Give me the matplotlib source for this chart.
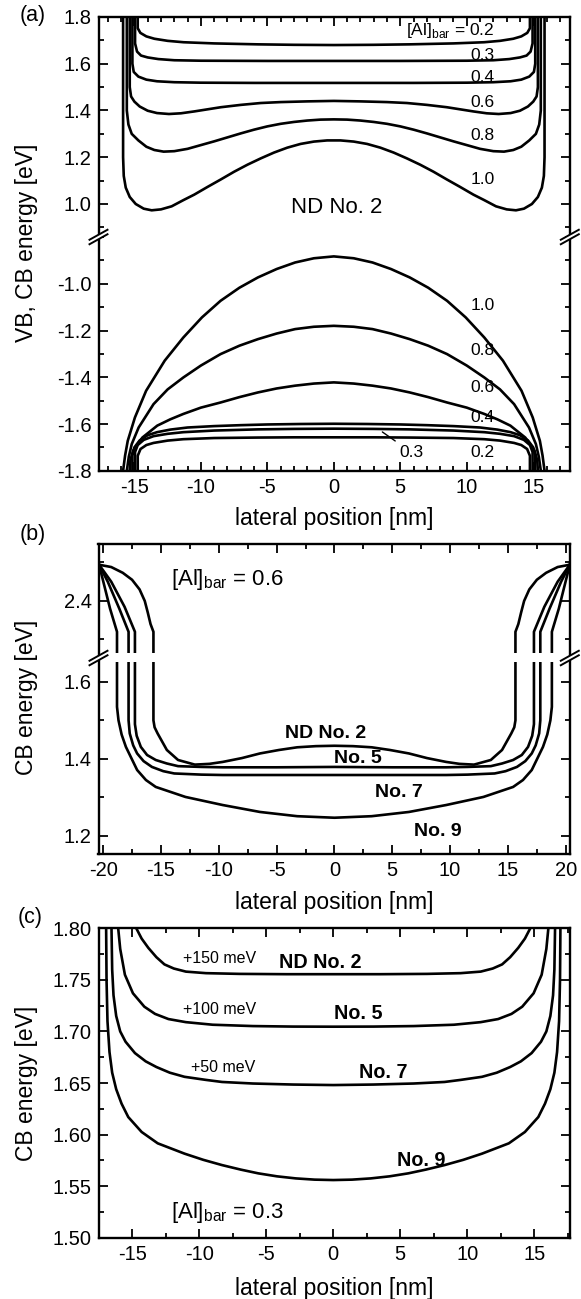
import matplotlib
matplotlib.use('Agg')
import matplotlib.pyplot as plt
from matplotlib.ticker import MultipleLocator, FixedLocator, FormatStrFormatter
from matplotlib.lines import Line2D
from matplotlib.patches import Polygon, Rectangle

plt.rcParams['font.family'] = ['Liberation Sans', 'DejaVu Sans']
plt.rcParams['mathtext.fontset'] = 'custom'
plt.rcParams['mathtext.rm'] = 'Liberation Sans'
plt.rcParams['axes.unicode_minus'] = False

# ---------------- panel (a): ND No. 2, CB (upper) and VB (lower) for several [Al]_bar
a_levels = ['0.2', '0.3', '0.4', '0.6', '0.8', '1.0']

a_cb_x_10 = [-15.85, -15.85, -15.8, -15.65, -15.35, -14.9, -14.3, -13.7, -13.0, -12.2, -11.3, -10.5, -9.5, -8.5, -7.5, -6.5, -5.5, -4.5, -3.5, -2.5, -1.5, -0.5,
             0.5, 1.5, 2.5, 3.5, 4.5, 5.5, 6.5, 7.5, 8.5, 9.5, 10.5, 11.3, 12.2, 13.0, 13.7, 14.3, 14.9, 15.35, 15.65, 15.8, 15.85, 15.85]
a_cb_y_10 = [1.80, 1.20, 1.12, 1.07, 1.03, 1.00, 0.980, 0.973, 0.977, 0.990, 1.017, 1.040, 1.073, 1.105, 1.138, 1.168, 1.195, 1.220, 1.241, 1.257, 1.267, 1.272,
             1.272, 1.267, 1.257, 1.241, 1.220, 1.195, 1.168, 1.138, 1.105, 1.073, 1.040, 1.017, 0.990, 0.977, 0.973, 0.980, 1.00, 1.03, 1.07, 1.12, 1.20, 1.80]
a_cb_x_08 = [-15.57, -15.57, -15.45, -15.2, -14.7, -14.1, -13.5, -12.8, -12.0, -11.0, -10.0, -9.0, -8.0, -7.0, -6.0, -5.0, -4.0, -3.0, -2.0, -1.0, 0.0,
             1.0, 2.0, 3.0, 4.0, 5.0, 6.0, 7.0, 8.0, 9.0, 10.0, 11.0, 12.0, 12.8, 13.5, 14.1, 14.7, 15.2, 15.45, 15.57, 15.57]
a_cb_y_08 = [1.80, 1.40, 1.34, 1.30, 1.272, 1.245, 1.231, 1.224, 1.226, 1.236, 1.252, 1.268, 1.285, 1.302, 1.318, 1.332, 1.343, 1.351, 1.357, 1.361, 1.362,
             1.361, 1.357, 1.351, 1.343, 1.332, 1.318, 1.302, 1.285, 1.268, 1.252, 1.236, 1.226, 1.224, 1.231, 1.245, 1.272, 1.30, 1.34, 1.40, 1.80]
a_cb_x_06 = [-15.35, -15.35, -15.25, -15.0, -14.6, -14.0, -13.3, -12.4, -11.5, -10.5, -9.5, -8.5, -7.0, -5.5, -4.0, -2.0, 0.0,
             2.0, 4.0, 5.5, 7.0, 8.5, 9.5, 10.5, 11.5, 12.4, 13.3, 14.0, 14.6, 15.0, 15.25, 15.35, 15.35]
a_cb_y_06 = [1.80, 1.50, 1.46, 1.438, 1.417, 1.399, 1.389, 1.385, 1.388, 1.396, 1.405, 1.414, 1.424, 1.432, 1.436, 1.439, 1.441,
             1.439, 1.436, 1.432, 1.424, 1.414, 1.405, 1.396, 1.388, 1.385, 1.389, 1.399, 1.417, 1.438, 1.46, 1.50, 1.80]
a_cb_x_04 = [-15.15, -15.15, -15.05, -14.7, -14.1, -13.3, -12.0, -10.0, -6.0, -3.0, 0.0, 3.0, 6.0, 10.0, 12.0, 13.3, 14.1, 14.7, 15.05, 15.15, 15.15]
a_cb_y_04 = [1.80, 1.60, 1.565, 1.545, 1.532, 1.525, 1.521, 1.519, 1.518, 1.518, 1.518, 1.518, 1.518, 1.519, 1.521, 1.525, 1.532, 1.545, 1.565, 1.60, 1.80]
a_cb_x_03 = [-14.95, -14.95, -14.8, -14.5, -14.0, -13.2, -12.0, -10.0, -5.0, 0.0, 5.0, 10.0, 12.0, 13.2, 14.0, 14.5, 14.8, 14.95, 14.95]
a_cb_y_03 = [1.80, 1.687, 1.652, 1.635, 1.627, 1.620, 1.615, 1.613, 1.612, 1.612, 1.612, 1.613, 1.615, 1.620, 1.627, 1.635, 1.652, 1.687, 1.80]
a_cb_x_02 = [-14.75, -14.75, -14.55, -14.1, -13.5, -12.5, -11.3, -9.0, -5.7, -3.0, 0.0, 3.0, 5.7, 9.0, 11.3, 12.5, 13.5, 14.1, 14.55, 14.75, 14.75]
a_cb_y_02 = [1.80, 1.752, 1.732, 1.717, 1.707, 1.698, 1.692, 1.687, 1.683, 1.681, 1.680, 1.681, 1.683, 1.687, 1.692, 1.698, 1.707, 1.717, 1.732, 1.752, 1.80]

a_vb_x_10 = [-15.85, -15.7, -15.5, -14.96, -14.12, -12.72, -11.32, -9.92, -8.52, -7.1, -5.71, -4.3, -2.91, -1.5, 0.0,
             1.5, 2.91, 4.3, 5.71, 7.1, 8.52, 9.92, 11.32, 12.72, 14.12, 14.96, 15.5, 15.7, 15.85]
a_vb_y_10 = [-1.80, -1.735, -1.672, -1.572, -1.458, -1.329, -1.230, -1.144, -1.073, -1.017, -0.973, -0.937, -0.909, -0.891, -0.883,
             -0.891, -0.909, -0.937, -0.973, -1.017, -1.073, -1.144, -1.230, -1.329, -1.458, -1.572, -1.672, -1.735, -1.80]
a_vb_x_08 = [-15.57, -15.42, -15.2, -14.68, -13.56, -12.5, -11.32, -10.0, -8.52, -7.1, -5.71, -4.3, -2.91, -1.5, 0.0,
             1.5, 2.91, 4.3, 5.71, 7.1, 8.52, 10.0, 11.32, 12.5, 13.56, 14.68, 15.2, 15.42, 15.57]
a_vb_y_08 = [-1.80, -1.74, -1.686, -1.615, -1.515, -1.452, -1.401, -1.350, -1.301, -1.265, -1.237, -1.213, -1.194, -1.184, -1.180,
             -1.184, -1.194, -1.213, -1.237, -1.265, -1.301, -1.350, -1.401, -1.452, -1.515, -1.615, -1.686, -1.74, -1.80]
a_vb_x_06 = [-15.35, -15.3, -15.1, -14.4, -13.28, -12.3, -11.32, -10.0, -8.52, -7.1, -5.71, -4.3, -2.91, -1.5, 0.0,
             1.5, 2.91, 4.3, 5.71, 7.1, 8.52, 10.0, 11.32, 12.3, 13.28, 14.4, 15.1, 15.3, 15.35]
a_vb_y_06 = [-1.80, -1.755, -1.714, -1.658, -1.607, -1.580, -1.557, -1.530, -1.508, -1.485, -1.465, -1.448, -1.436, -1.427, -1.422,
             -1.427, -1.436, -1.448, -1.465, -1.485, -1.508, -1.530, -1.557, -1.580, -1.607, -1.658, -1.714, -1.755, -1.80]
a_vb_x_04 = [-15.15, -15.15, -15.0, -14.6, -14.0, -13.3, -12.3, -11.0, -9.0, -7.0, -5.0, -2.5, 0.0,
             2.5, 5.0, 7.0, 9.0, 11.0, 12.3, 13.3, 14.0, 14.6, 15.0, 15.15, 15.15]
a_vb_y_04 = [-1.80, -1.735, -1.700, -1.670, -1.648, -1.635, -1.624, -1.615, -1.609, -1.605, -1.602, -1.600, -1.599,
             -1.600, -1.602, -1.605, -1.609, -1.615, -1.624, -1.635, -1.648, -1.670, -1.700, -1.735, -1.80]
a_vb_x_03 = [-14.95, -14.95, -14.75, -14.3, -13.56, -12.5, -11.32, -9.0, -5.71, -3.0, 0.0, 3.0, 5.71, 9.0, 11.32, 12.5, 13.56, 14.3, 14.75, 14.95, 14.95]
a_vb_y_03 = [-1.80, -1.72, -1.69, -1.668, -1.652, -1.642, -1.635, -1.628, -1.623, -1.621, -1.620, -1.621, -1.623, -1.628, -1.635, -1.642, -1.652, -1.668, -1.69, -1.72, -1.80]
a_vb_x_02 = [-14.75, -14.75, -14.54, -14.1, -13.56, -12.5, -11.32, -9.0, -5.71, -3.0, 0.0, 3.0, 5.71, 9.0, 11.32, 12.5, 13.56, 14.1, 14.54, 14.75, 14.75]
a_vb_y_02 = [-1.80, -1.736, -1.707, -1.690, -1.681, -1.671, -1.665, -1.660, -1.658, -1.657, -1.657, -1.657, -1.658, -1.660, -1.665, -1.671, -1.681, -1.690, -1.707, -1.736, -1.80]

# ---------------- panel (b): [Al]_bar = 0.6, four dots
b_names = ['ND No. 2', 'No. 5', 'No. 7', 'No. 9']
b_x_2 = [-20.35, -19.3, -18.3, -17.5, -16.85, -16.4, -16.14, -15.9, -15.65, -15.65, -15.55, -15.29, -14.49, -13.52, -12.07, -10.8, -9.66, -8.0, -6.44, -4.8, -3.22, -1.6, 0.0,
         1.6, 3.22, 4.8, 6.44, 8.0, 9.66, 10.8, 12.07, 13.52, 14.49, 15.29, 15.55, 15.65, 15.65, 15.9, 16.14, 16.4, 16.85, 17.5, 18.3, 19.3, 20.35]
b_y_2 = [2.494, 2.488, 2.473, 2.455, 2.430, 2.400, 2.370, 2.340, 2.320, 1.500, 1.482, 1.466, 1.423, 1.397, 1.385, 1.387, 1.392, 1.402, 1.414, 1.423, 1.430, 1.433, 1.434,
         1.433, 1.430, 1.423, 1.414, 1.402, 1.392, 1.387, 1.385, 1.397, 1.423, 1.466, 1.482, 1.500, 2.320, 2.340, 2.370, 2.400, 2.430, 2.455, 2.473, 2.488, 2.494]
b_x_5 = [-20.35, -19.3, -18.15, -17.25, -17.25, -17.1, -16.74, -16.2, -15.45, -14.5, -13.52, -11.5, -9.66, -5.0, 0.0,
         5.0, 9.66, 11.5, 13.52, 14.5, 15.45, 16.2, 16.74, 17.1, 17.25, 17.25, 18.15, 19.3, 20.35]
b_y_5 = [2.494, 2.45, 2.385, 2.320, 1.490, 1.460, 1.431, 1.410, 1.397, 1.388, 1.381, 1.379, 1.378, 1.378, 1.379,
         1.378, 1.378, 1.379, 1.381, 1.388, 1.397, 1.410, 1.431, 1.460, 1.490, 2.320, 2.385, 2.45, 2.494]
b_x_7 = [-20.35, -19.6, -18.6, -17.8, -17.8, -17.7, -17.4, -17.06, -16.5, -15.78, -14.8, -13.85, -11.5, -9.66, -5.0, 0.0,
         5.0, 9.66, 11.5, 13.85, 14.8, 15.78, 16.5, 17.06, 17.4, 17.7, 17.8, 17.8, 18.6, 19.6, 20.35]
b_y_7 = [2.494, 2.45, 2.38, 2.320, 1.500, 1.466, 1.435, 1.414, 1.394, 1.379, 1.368, 1.362, 1.359, 1.358, 1.358, 1.358,
         1.358, 1.358, 1.359, 1.362, 1.368, 1.379, 1.394, 1.414, 1.435, 1.466, 1.500, 2.320, 2.38, 2.45, 2.494]
b_x_9 = [-20.35, -19.9, -19.4, -18.8, -18.8, -18.67, -18.4, -18.03, -17.06, -16.3, -15.45, -12.88, -9.66, -6.44, -3.22, 0.0,
         3.22, 6.44, 9.66, 12.88, 15.45, 16.3, 17.06, 18.03, 18.4, 18.67, 18.8, 18.8, 19.4, 19.9, 20.35]
b_y_9 = [2.494, 2.44, 2.38, 2.320, 1.535, 1.500, 1.463, 1.431, 1.371, 1.345, 1.327, 1.301, 1.280, 1.262, 1.251, 1.247,
         1.251, 1.262, 1.280, 1.301, 1.327, 1.345, 1.371, 1.431, 1.463, 1.500, 1.535, 2.320, 2.38, 2.44, 2.494]

# ---------------- panel (c): [Al]_bar = 0.3, shifted curves
c_x_2 = [-14.7, -14.3, -13.8, -13.2, -12.6, -11.9, -11.0, -9.5, -7.0, -3.5, 0.0, 3.5, 7.0, 9.5, 11.0, 11.9, 12.6, 13.2, 13.8, 14.3, 14.7]
c_y_2 = [1.800, 1.790, 1.781, 1.772, 1.765, 1.761, 1.758, 1.7565, 1.7558, 1.7555, 1.7555, 1.7555, 1.7558, 1.7565, 1.758, 1.761, 1.765, 1.772, 1.781, 1.790, 1.800]
c_x_5 = [-16.05, -15.9, -15.55, -14.95, -14.1, -13.3, -12.3, -11.0, -9.0, -6.0, -3.0, 0.0, 3.0, 6.0, 9.0, 11.0, 12.3, 13.3, 14.1, 14.95, 15.55, 15.9, 16.05]
c_y_5 = [1.800, 1.780, 1.755, 1.737, 1.724, 1.717, 1.712, 1.709, 1.7065, 1.7052, 1.7047, 1.7046, 1.7047, 1.7052, 1.7065, 1.709, 1.712, 1.717, 1.724, 1.737, 1.755, 1.780, 1.800]
c_x_7 = [-16.55, -16.5, -16.4, -16.2, -15.9, -15.5, -14.8, -14.0, -13.2, -12.2, -11.1, -9.5, -8.3, -6.0, -3.0, 0.0,
         3.0, 6.0, 8.3, 9.5, 11.1, 12.2, 13.2, 14.0, 14.8, 15.5, 15.9, 16.2, 16.4, 16.5, 16.55]
c_y_7 = [1.800, 1.760, 1.735, 1.715, 1.700, 1.690, 1.679, 1.671, 1.6655, 1.660, 1.656, 1.653, 1.651, 1.6495, 1.6485, 1.648,
         1.6485, 1.6495, 1.651, 1.653, 1.656, 1.660, 1.6655, 1.671, 1.679, 1.690, 1.700, 1.715, 1.735, 1.760, 1.800]
c_x_9 = [-16.95, -16.92, -16.85, -16.7, -16.5, -16.2, -15.8, -15.3, -14.3, -13.1, -11.1, -9.7, -8.3, -6.9, -5.6, -4.2, -2.8, -1.4, 0.0,
         1.4, 2.8, 4.2, 5.6, 6.9, 8.3, 9.7, 11.1, 13.1, 14.3, 15.3, 15.8, 16.2, 16.5, 16.7, 16.85, 16.92, 16.95]
c_y_9 = [1.800, 1.750, 1.710, 1.680, 1.660, 1.644, 1.630, 1.617, 1.6025, 1.5915, 1.5815, 1.5755, 1.5704, 1.566, 1.5624, 1.5595, 1.5575, 1.5563, 1.5559,
         1.5563, 1.5575, 1.5595, 1.5624, 1.566, 1.5704, 1.5755, 1.5815, 1.5915, 1.6025, 1.617, 1.630, 1.644, 1.660, 1.680, 1.710, 1.750, 1.800]
c_shifts = ['+150 meV', '+100 meV', '+50 meV']

W, H = 581, 1299
LW = 1.9
TICK_FS = 14.5
LABEL_FS = 16.5

fig = plt.figure(figsize=(W / 100, H / 100), dpi=100)


def box(l, t, r, b):
    # pixel box (top-down) -> figure fraction
    return [l / W, 1 - b / H, (r - l) / W, (b - t) / H]


def style(ax, xlim, ylim, top=True, bottom=True):
    ax.set_xlim(*xlim)
    ax.set_ylim(*ylim)
    for s in ax.spines.values():
        s.set_linewidth(1.7)
    ax.spines['top'].set_visible(top)
    ax.spines['bottom'].set_visible(bottom)
    ax.tick_params(which='both', direction='in', top=top, bottom=bottom, right=True, left=True,
                   width=1.3, labelsize=TICK_FS, pad=5, labelbottom=bottom)
    ax.tick_params(which='major', length=6.5)
    ax.tick_params(which='minor', length=3.8)
    ax.patch.set_alpha(0)


def brk(xc, yc):
    dx, dy, g = 9, 5, 4.5
    pts = [(xc - dx, yc + dy - g / 2), (xc + dx, yc - dy - g / 2), (xc + dx, yc - dy + g / 2), (xc - dx, yc + dy + g / 2)]
    fig.add_artist(Polygon([(x / W, 1 - y / H) for x, y in pts], closed=True, transform=fig.transFigure,
                           fc='white', ec='none', zorder=10))
    for off in (-g / 2, g / 2):
        fig.add_artist(Line2D([(xc - dx) / W, (xc + dx) / W], [1 - (yc + dy + off) / H, 1 - (yc - dy + off) / H],
                              transform=fig.transFigure, color='k', lw=1.4, zorder=11))


# ===== panel (a)
a_xlim = (-17.7, 17.75)
ax_a1 = fig.add_axes(box(98.5, 17, 569.8, 237))
ax_a2 = fig.add_axes(box(98.5, 237, 569.8, 470.75))
for xs, ys in [(a_cb_x_02, a_cb_y_02), (a_cb_x_03, a_cb_y_03), (a_cb_x_04, a_cb_y_04),
               (a_cb_x_06, a_cb_y_06), (a_cb_x_08, a_cb_y_08), (a_cb_x_10, a_cb_y_10)]:
    ax_a1.plot(xs, ys, color='k', lw=LW, solid_joinstyle='round')
for xs, ys in [(a_vb_x_02, a_vb_y_02), (a_vb_x_03, a_vb_y_03), (a_vb_x_04, a_vb_y_04),
               (a_vb_x_06, a_vb_y_06), (a_vb_x_08, a_vb_y_08), (a_vb_x_10, a_vb_y_10)]:
    ax_a2.plot(xs, ys, color='k', lw=LW, solid_joinstyle='round')
style(ax_a1, a_xlim, (0.8588, 1.8), top=True, bottom=False)
style(ax_a2, a_xlim, (-1.8, -0.8), top=False, bottom=True)
for ax in (ax_a1, ax_a2):
    ax.xaxis.set_major_locator(MultipleLocator(5))
    ax.xaxis.set_minor_locator(MultipleLocator(1))
    ax.yaxis.set_minor_locator(MultipleLocator(0.1))
    ax.yaxis.set_major_formatter(FormatStrFormatter('%.1f'))
ax_a1.yaxis.set_major_locator(FixedLocator([1.0, 1.2, 1.4, 1.6, 1.8]))
ax_a2.yaxis.set_major_locator(FixedLocator([-1.8, -1.6, -1.4, -1.2, -1.0]))
ax_a2.xaxis.set_major_formatter(FormatStrFormatter('%d'))

lab_kw = dict(fontsize=12.5, ha='right', va='center')
ax_a1.text(12.1, 1.744, r'[Al]$_{\mathrm{bar}}$ = ' + a_levels[0], **lab_kw)
for lev, yy in zip(a_levels[1:], [1.637, 1.543, 1.436, 1.295, 1.103]):
    ax_a1.text(12.1, yy, lev, **lab_kw)
ax_a1.text(0.25, 0.987, 'ND No. 2', fontsize=16, ha='center', va='center')
for lev, yy in zip(['1.0', '0.8', '0.6', '0.4', '0.2'], [-1.091, -1.284, -1.442, -1.574, -1.72]):
    ax_a2.text(12.1, yy, lev, **lab_kw)
ax_a2.annotate(a_levels[1], xy=(3.65, -1.634), xytext=(4.9, -1.72), fontsize=12.5, ha='left', va='center',
               arrowprops=dict(arrowstyle='-', color='k', lw=1.0, shrinkA=1, shrinkB=0))

# ===== panel (b)
b_xlim = (-20.4, 20.35)
ax_b1 = fig.add_axes(box(98.5, 544.3, 569.8, 658))
ax_b2 = fig.add_axes(box(98.5, 658, 569.8, 854.3))
for ax in (ax_b1, ax_b2):
    for xs, ys in [(b_x_2, b_y_2), (b_x_5, b_y_5), (b_x_7, b_y_7), (b_x_9, b_y_9)]:
        ax.plot(xs, ys, color='k', lw=LW, solid_joinstyle='round')
style(ax_b1, b_xlim, (2.252, 2.547), top=True, bottom=False)
style(ax_b2, b_xlim, (1.152, 1.662), top=False, bottom=True)
for ax in (ax_b1, ax_b2):
    ax.xaxis.set_major_locator(MultipleLocator(5))
    ax.xaxis.set_minor_locator(MultipleLocator(2.5))
    ax.yaxis.set_major_locator(MultipleLocator(0.2))
    ax.yaxis.set_minor_locator(MultipleLocator(0.1))
    ax.yaxis.set_major_formatter(FormatStrFormatter('%.1f'))
ax_b2.xaxis.set_major_formatter(FormatStrFormatter('%d'))
ax_b1.text(-14.1, 2.455, r'[Al]$_{\mathrm{bar}}$ = 0.6', fontsize=16, ha='left', va='center')
for name, xx, yy in zip(b_names, [-0.8, 2.05, 5.6, 8.96], [1.467, 1.402, 1.313, 1.210]):
    ax_b2.text(xx, yy, name, fontsize=14, fontweight='bold', ha='center', va='center')

# ===== panel (c)
ax_c = fig.add_axes(box(98.5, 928.3, 569.8, 1237.7))
for xs, ys in [(c_x_2, c_y_2), (c_x_5, c_y_5), (c_x_7, c_y_7), (c_x_9, c_y_9)]:
    ax_c.plot(xs, ys, color='k', lw=LW, solid_joinstyle='round')
style(ax_c, (-17.52, 17.65), (1.50, 1.80))
ax_c.xaxis.set_major_locator(MultipleLocator(5))
ax_c.xaxis.set_minor_locator(MultipleLocator(2.5))
ax_c.yaxis.set_major_locator(MultipleLocator(0.05))
ax_c.yaxis.set_minor_locator(MultipleLocator(0.025))
ax_c.yaxis.set_major_formatter(FormatStrFormatter('%.2f'))
ax_c.xaxis.set_major_formatter(FormatStrFormatter('%d'))
for s, xx, yy in zip(c_shifts, [-8.46, -8.46, -8.23], [1.7712, 1.7208, 1.6655]):
    ax_c.text(xx, yy, s, fontsize=11.5, ha='center', va='center')
for name, xx, yy in zip(b_names, [-1.0, 1.84, 3.7, 6.6], [1.7673, 1.7178, 1.6597, 1.5753]):
    ax_c.text(xx, yy, name, fontsize=14.2, fontweight='bold', ha='center', va='center')
ax_c.text(-12.1, 1.5248, r'[Al]$_{\mathrm{bar}}$ = 0.3', fontsize=16, ha='left', va='center')

# ===== breaks, labels
fig.add_artist(Rectangle((100.5 / W, 1 - 662 / H), (567.8 - 100.5) / W, 9 / H, transform=fig.transFigure,
                         fc='white', ec='none', zorder=9))
for yb in (237, 658):
    brk(98.5, yb)
    brk(569.8, yb)


def ftext(x, y, s, size=LABEL_FS, **kw):
    fig.text(x / W, 1 - y / H, s, ha='center', va='center', fontsize=size, **kw)


ftext(33, 15, '(a)', size=15.5)
ftext(33, 535, '(b)', size=15.5)
ftext(30, 918, '(c)', size=15.5)
ftext(27, 243, 'VB, CB energy [eV]', rotation=90)
ftext(27, 697, 'CB energy [eV]', rotation=90)
ftext(27, 1083, 'CB energy [eV]', rotation=90)
for yl in (518, 903, 1288):
    ftext(334, yl, 'lateral position [nm]')

fig.savefig('out.png', dpi=100)
